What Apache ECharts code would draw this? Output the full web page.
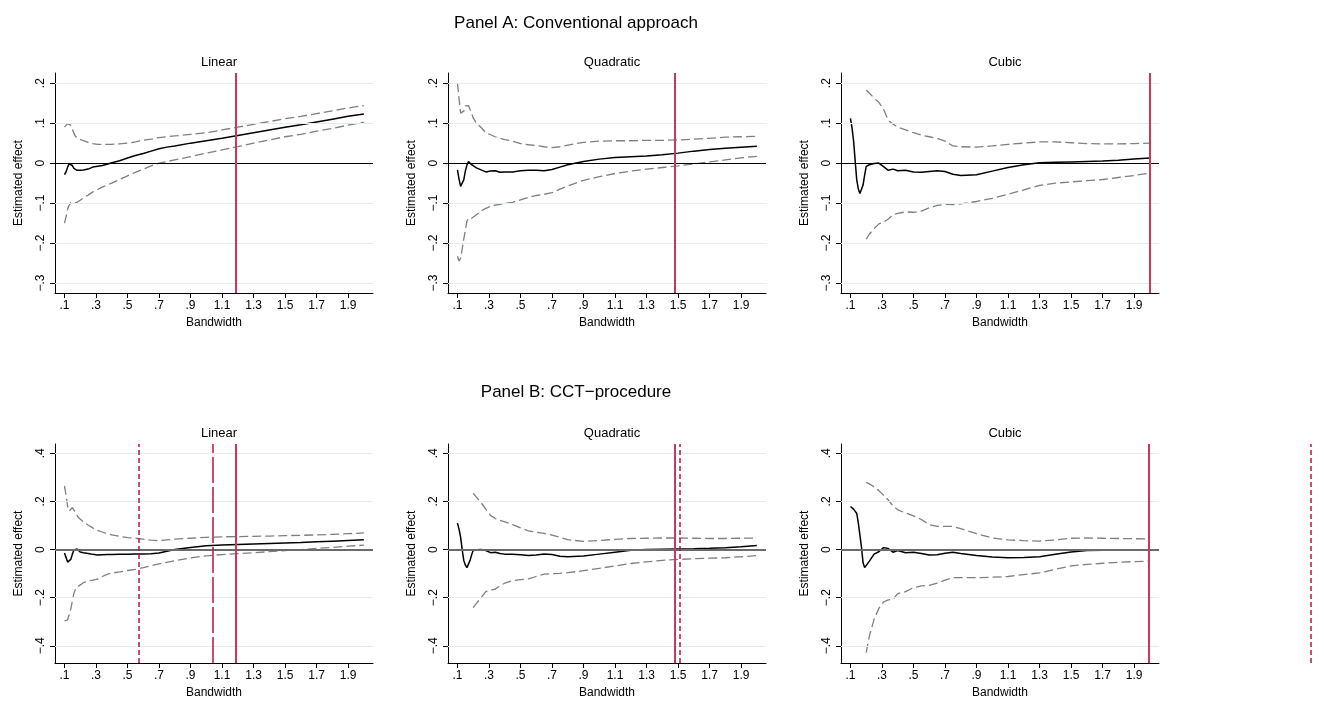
<!DOCTYPE html>
<html>
<head>
<meta charset="utf-8">
</head>
<body style="margin: 0; background: #fff">
<div id="container" style="width: 1324px; height: 704px;"></div>
<script type="text/javascript" src="https://cdn.jsdelivr.net/npm/echarts@6/dist/echarts.min.js"></script>
<script type="text/javascript">
// bandwidth grid shared by every panel
var bandwidth = [0.10, 0.11, 0.12, 0.13, 0.14, 0.15, 0.16, 0.17, 0.18, 0.19, 0.20, 0.22, 0.25, 0.28, 0.31, 0.34, 0.37, 0.40, 0.45, 0.50,
    0.55, 0.60, 0.65, 0.70, 0.75, 0.80, 0.90, 1.0, 1.1, 1.2, 1.3, 1.4, 1.5, 1.6, 1.7, 1.8, 1.9, 2.0];

// Panel A: conventional approach
var aLinEst = [-0.029, -0.022, -0.01, -0.002, 0, -0.006, -0.013, -0.017, -0.018, -0.018, -0.018, -0.017, -0.015, -0.01, -0.008, -0.006, -0.003, 0.001, 0.006, 0.013,
    0.019, 0.024, 0.03, 0.036, 0.04, 0.043, 0.05, 0.056, 0.062, 0.069, 0.076, 0.083, 0.09, 0.096, 0.103, 0.11, 0.117, 0.123];
var aLinUp = [0.09, 0.093, 0.099, 0.1, 0.095, 0.085, 0.075, 0.067, 0.063, 0.061, 0.059, 0.056, 0.052, 0.049, 0.047, 0.047, 0.047, 0.047, 0.048, 0.05,
    0.053, 0.057, 0.06, 0.064, 0.066, 0.068, 0.072, 0.076, 0.083, 0.09, 0.097, 0.104, 0.111, 0.117, 0.124, 0.131, 0.138, 0.144];
var aLinLo = [-0.15, -0.135, -0.115, -0.105, -0.098, -0.097, -0.099, -0.1, -0.098, -0.095, -0.093, -0.087, -0.08, -0.072, -0.066, -0.06, -0.055, -0.05, -0.041, -0.032,
    -0.023, -0.015, -0.007, 0, 0.004, 0.008, 0.016, 0.025, 0.033, 0.041, 0.05, 0.058, 0.066, 0.072, 0.08, 0.087, 0.095, 0.1025];

var aQuadEst = [-0.017, -0.04, -0.058, -0.055, -0.042, -0.02, -0.005, 0.004, 0.002, -0.004, -0.008, -0.012, -0.017, -0.022, -0.02, -0.019, -0.023, -0.022, -0.022, -0.019,
    -0.018, -0.018, -0.019, -0.016, -0.01, -0.004, 0.004, 0.01, 0.014, 0.016, 0.018, 0.021, 0.025, 0.03, 0.034, 0.037, 0.04, 0.042];
var aQuadUp = [0.2, 0.162, 0.125, 0.122, 0.13, 0.143, 0.146, 0.144, 0.14, 0.125, 0.113, 0.1, 0.089, 0.076, 0.071, 0.066, 0.062, 0.059, 0.055, 0.049,
    0.046, 0.044, 0.041, 0.039, 0.041, 0.045, 0.052, 0.055, 0.056, 0.056, 0.057, 0.057, 0.058, 0.06, 0.062, 0.065, 0.066, 0.067];
var aQuadLo = [-0.233, -0.245, -0.238, -0.215, -0.19, -0.168, -0.145, -0.138, -0.138, -0.138, -0.137, -0.129, -0.12, -0.113, -0.108, -0.105, -0.103, -0.101, -0.098, -0.092,
    -0.086, -0.081, -0.078, -0.074, -0.065, -0.057, -0.043, -0.034, -0.026, -0.02, -0.015, -0.011, -0.007, -0.002, 0.003, 0.008, 0.013, 0.017];

var aCubEst = [0.112, 0.088, 0.055, 0.005, -0.042, -0.065, -0.076, -0.075, -0.055, -0.03, -0.008, -0.004, -0.001, 0, -0.009, -0.018, -0.015, -0.019, -0.018, -0.022,
    -0.023, -0.021, -0.019, -0.021, -0.028, -0.031, -0.029, -0.02, -0.011, -0.004, 0.001, 0.002, 0.003, 0.004, 0.005, 0.007, 0.01, 0.013];
var aCubUp = [null, null, null, null, null, null, null, null, null, null, 0.183, 0.175, 0.163, 0.152, 0.135, 0.107, 0.098, 0.09, 0.083, 0.076,
    0.07, 0.066, 0.062, 0.055, 0.043, 0.041, 0.04, 0.043, 0.047, 0.05, 0.053, 0.053, 0.051, 0.049, 0.048, 0.048, 0.049, 0.05];
var aCubLo = [null, null, null, null, null, null, null, null, null, null, -0.19, -0.178, -0.164, -0.152, -0.148, -0.14, -0.129, -0.126, -0.122, -0.123,
    -0.12, -0.112, -0.106, -0.103, -0.104, -0.102, -0.096, -0.088, -0.078, -0.067, -0.056, -0.05, -0.047, -0.044, -0.041, -0.036, -0.031, -0.025];

// Panel B: CCT procedure
var bLinEst = [-0.014, -0.032, -0.052, -0.055, -0.041, -0.02, -0.002, 0.003, 0.002, -0.004, -0.01, -0.013, -0.016, -0.02, -0.023, -0.022, -0.021, -0.021, -0.02, -0.019,
    -0.018, -0.018, -0.017, -0.014, -0.007, 0, 0.009, 0.016, 0.019, 0.021, 0.023, 0.025, 0.027, 0.029, 0.032, 0.035, 0.038, 0.041];
var bLinUp = [0.265, 0.225, 0.18, 0.16, 0.168, 0.174, 0.167, 0.155, 0.142, 0.132, 0.124, 0.115, 0.102, 0.09, 0.08, 0.073, 0.066, 0.061, 0.055, 0.05,
    0.047, 0.043, 0.039, 0.037, 0.04, 0.043, 0.047, 0.051, 0.053, 0.054, 0.055, 0.056, 0.058, 0.059, 0.061, 0.063, 0.066, 0.069];
var bLinLo = [-0.297, -0.297, -0.292, -0.27, -0.248, -0.215, -0.182, -0.165, -0.157, -0.152, -0.147, -0.138, -0.13, -0.127, -0.123, -0.112, -0.103, -0.098, -0.093, -0.087,
    -0.082, -0.075, -0.067, -0.06, -0.053, -0.046, -0.035, -0.026, -0.021, -0.017, -0.013, -0.009, -0.004, 0, 0.005, 0.009, 0.014, 0.018];

var bQuadEst = [0.11, 0.085, 0.052, 0, -0.045, -0.064, -0.075, -0.068, -0.045, -0.022, -0.004, -0.001, 0, -0.004, -0.013, -0.011, -0.016, -0.019, -0.02, -0.022,
    -0.025, -0.023, -0.018, -0.021, -0.028, -0.03, -0.027, -0.019, -0.011, -0.003, 0, 0.001, 0.002, 0.003, 0.005, 0.008, 0.012, 0.017];
var bQuadUp = [null, null, null, null, null, null, null, null, null, null, 0.234, 0.218, 0.195, 0.168, 0.142, 0.129, 0.121, 0.115, 0.104, 0.09,
    0.078, 0.072, 0.067, 0.06, 0.051, 0.041, 0.034, 0.038, 0.042, 0.046, 0.047, 0.048, 0.048, 0.047, 0.046, 0.046, 0.047, 0.048];
var bQuadLo = [null, null, null, null, null, null, null, null, null, null, -0.241, -0.224, -0.2, -0.175, -0.168, -0.165, -0.15, -0.14, -0.129, -0.125,
    -0.122, -0.112, -0.102, -0.1, -0.099, -0.096, -0.088, -0.078, -0.068, -0.058, -0.051, -0.045, -0.041, -0.038, -0.036, -0.034, -0.03, -0.025];

var bCubEst = [0.179, 0.172, 0.168, 0.176, 0.15, 0.11, 0.06, 0.01, -0.055, -0.075, -0.08, -0.048, -0.019, -0.009, 0.008, 0.004, -0.011, -0.004, -0.013, -0.011,
    -0.016, -0.023, -0.022, -0.015, -0.011, -0.016, -0.025, -0.031, -0.034, -0.033, -0.03, -0.02, -0.01, -0.004, -0.003, -0.003, -0.003, -0.003];
var bCubUp = [null, null, null, null, null, null, null, null, null, null, 0.279, 0.273, 0.261, 0.245, 0.226, 0.206, 0.181, 0.165, 0.152, 0.14,
    0.125, 0.104, 0.096, 0.096, 0.096, 0.087, 0.066, 0.048, 0.04, 0.037, 0.035, 0.04, 0.047, 0.048, 0.047, 0.046, 0.045, 0.044];
var bCubLo = [null, null, null, null, null, null, null, null, null, null, -0.428, -0.36, -0.29, -0.245, -0.218, -0.209, -0.207, -0.183, -0.175, -0.158,
    -0.151, -0.149, -0.14, -0.127, -0.117, -0.117, -0.117, -0.115, -0.112, -0.104, -0.097, -0.082, -0.068, -0.062, -0.057, -0.053, -0.05, -0.048];

// chosen bandwidths (vertical lines), per column: linear, quadratic, cubic
var bwConventional = [1.19, 1.48, 1.995];
var bwCctSolid = [1.19, 1.48, 1.99];
var bwCctLongDash = [1.045, null, null];
var bwCctShortDash = [0.573, 1.51, 3.015];

var xTicks = [0.1, 0.3, 0.5, 0.7, 0.9, 1.1, 1.3, 1.5, 1.7, 1.9];
var yTicksA = [-0.3, -0.2, -0.1, 0, 0.1, 0.2];
var yTicksB = [-0.4, -0.2, 0, 0.2, 0.4];
var columnTitles = ['Linear', 'Quadratic', 'Cubic'];

var FONT = '"Liberation Sans", Arial, sans-serif';
var colLeft = [55, 448, 841];
var plotW = 318;
var rowTop = [73, 444];
var rowH = [220, 219];
var yRange = [[-0.325, 0.2255], [-0.4716, 0.4388]];
var xMin = 0.04, xMax = 2.058;

function fmt(v) {
    var s = String(Math.round(v * 10) / 10);
    s = s.replace('0.', '.').replace('-', '\u2212');
    return s;
}

function pairs(vals) {
    return bandwidth.map(function (b, i) { return [b, vals[i]]; });
}

var panels = [
    {row: 0, col: 0, est: aLinEst, up: aLinUp, lo: aLinLo},
    {row: 0, col: 1, est: aQuadEst, up: aQuadUp, lo: aQuadLo},
    {row: 0, col: 2, est: aCubEst, up: aCubUp, lo: aCubLo},
    {row: 1, col: 0, est: bLinEst, up: bLinUp, lo: bLinLo},
    {row: 1, col: 1, est: bQuadEst, up: bQuadUp, lo: bQuadLo},
    {row: 1, col: 2, est: bCubEst, up: bCubUp, lo: bCubLo}
];

var grids = [], xAxes = [], yAxes = [], series = [];
var titles = [
    {text: 'Panel A: Conventional approach', left: 571, top: 10, textAlign: 'center',
        textStyle: {fontFamily: FONT, fontSize: 17, fontWeight: 'normal', color: '#000'}},
    {text: 'Panel B: CCT\u2212procedure', left: 571, top: 379, textAlign: 'center',
        textStyle: {fontFamily: FONT, fontSize: 17, fontWeight: 'normal', color: '#000'}}
];

var noAnim = {symbol: 'none', silent: true, animation: false, label: {show: false}, emphasis: {disabled: true}};

panels.forEach(function (p, i) {
    var yt = p.row === 0 ? yTicksA : yTicksB;
    grids.push({left: colLeft[p.col], top: rowTop[p.row], width: plotW, height: rowH[p.row]});
    titles.push({text: columnTitles[p.col], left: colLeft[p.col] + plotW / 2, top: rowTop[p.row] - 22, textAlign: 'center',
        textStyle: {fontFamily: FONT, fontSize: 13, fontWeight: 'normal', color: '#000'}});
    xAxes.push({
        type: 'value', gridIndex: i, min: xMin, max: xMax,
        name: 'Bandwidth', nameLocation: 'middle', nameGap: 24,
        nameTextStyle: {fontFamily: FONT, fontSize: 12, color: '#000'},
        axisLine: {onZero: false, lineStyle: {color: '#000', width: 1}},
        axisTick: {length: 5, customValues: xTicks, lineStyle: {color: '#000'}},
        axisLabel: {customValues: xTicks, formatter: fmt, margin: 7, fontFamily: FONT, fontSize: 12, color: '#000'},
        splitLine: {show: false}
    });
    yAxes.push({
        type: 'value', gridIndex: i, min: yRange[p.row][0], max: yRange[p.row][1],
        name: 'Estimated effect', nameLocation: 'middle', nameGap: 30, nameRotate: 90,
        nameTextStyle: {fontFamily: FONT, fontSize: 12, color: '#000'},
        axisLine: {show: true, onZero: false, lineStyle: {color: '#000', width: 1}},
        axisTick: {show: true, length: 5, customValues: yt, lineStyle: {color: '#000'}},
        axisLabel: {customValues: yt, formatter: fmt, rotate: 90, margin: 8, fontFamily: FONT, fontSize: 12, color: '#000'},
        splitLine: {show: false}
    });

    // light horizontal grid lines
    series.push({
        type: 'line', xAxisIndex: i, yAxisIndex: i, data: [], z: 1,
        markLine: Object.assign({}, noAnim, {
            lineStyle: {color: '#e4eded', width: 1, type: 'solid'},
            data: yt.filter(function (v) { return v !== 0; }).map(function (v) { return {yAxis: v}; })
        })
    });

    // zero line and chosen bandwidths
    var marks = [{yAxis: 0, lineStyle: p.row === 0 ? {color: '#000', width: 1, type: 'solid'} : {color: '#6b6b6b', width: 2, type: 'solid'}}];
    if (p.row === 0) {
        marks.push({xAxis: bwConventional[p.col], lineStyle: {color: '#c8385c', width: 2, type: 'solid'}});
    } else {
        marks.push({xAxis: bwCctSolid[p.col], lineStyle: {color: '#c8385c', width: 2, type: 'solid'}});
        if (bwCctLongDash[p.col] != null) {
            marks.push({xAxis: bwCctLongDash[p.col], lineStyle: {color: '#b8163e', width: 1.5, type: [26, 4]}});
        }
        if (bwCctShortDash[p.col] != null && bwCctShortDash[p.col] <= xMax) {
            marks.push({xAxis: bwCctShortDash[p.col], lineStyle: {color: '#b8163e', width: 1.5, type: [5, 3]}});
        }
    }

    series.push({
        type: 'line', xAxisIndex: i, yAxisIndex: i, data: pairs(p.up), z: 3,
        showSymbol: false, connectNulls: false, silent: true,
        lineStyle: {color: '#7f7f7f', width: 1.3, type: [9, 4]}
    });
    series.push({
        type: 'line', xAxisIndex: i, yAxisIndex: i, data: pairs(p.lo), z: 3,
        showSymbol: false, connectNulls: false, silent: true,
        lineStyle: {color: '#7f7f7f', width: 1.3, type: [9, 4]}
    });
    series.push({
        type: 'line', xAxisIndex: i, yAxisIndex: i, data: pairs(p.est), z: 4,
        showSymbol: false, silent: true,
        lineStyle: {color: '#000', width: 1.5}
    });
    series.push({
        type: 'line', xAxisIndex: i, yAxisIndex: i, data: [], z: 5,
        markLine: Object.assign({}, noAnim, {data: marks})
    });
});

// the cubic CCT bandwidth lies beyond the axis range; Stata still draws it to the right
var outside = bwCctShortDash.filter(function (v) { return v != null && v > xMax; });
var extraW = 1324 - colLeft[2];
grids.push({left: colLeft[2], top: rowTop[1], width: extraW, height: rowH[1]});
xAxes.push({type: 'value', gridIndex: 6, show: false, min: xMin, max: xMin + extraW * (xMax - xMin) / plotW});
yAxes.push({type: 'value', gridIndex: 6, show: false, min: yRange[1][0], max: yRange[1][1]});
series.push({
    type: 'line', xAxisIndex: 6, yAxisIndex: 6, data: [], z: 5,
    markLine: Object.assign({}, noAnim, {
        lineStyle: {color: '#b8163e', width: 1.5, type: [5, 3]},
        data: outside.map(function (v) { return {xAxis: v}; })
    })
});

var myChart = echarts.init(document.getElementById('container'));
myChart.setOption({
    animation: false,
    backgroundColor: '#fff',
    title: titles,
    grid: grids,
    xAxis: xAxes,
    yAxis: yAxes,
    series: series
});
</script>
</body>
</html>
